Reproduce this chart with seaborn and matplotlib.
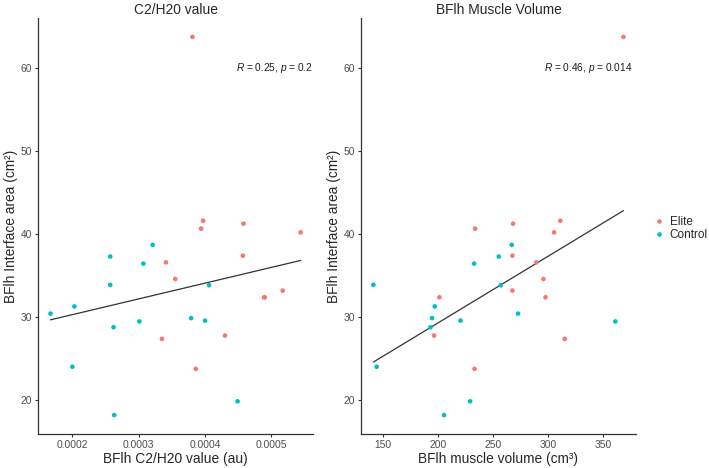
import matplotlib
matplotlib.use("Agg")
import matplotlib.pyplot as plt
import seaborn as sns
import pandas as pd
from matplotlib.lines import Line2D

# Values.
group = ["Elite"] * 14 + ["Control"] * 14
interface_area = [
    63.7, 41.6, 40.65, 41.25, 40.2, 37.4, 36.6, 34.6, 33.2, 32.4, 32.4, 27.8, 27.4, 23.8,
    30.44, 31.3, 24.05, 37.3, 33.9, 28.8, 18.24, 29.5, 36.45, 38.7, 29.9, 29.6, 33.85, 19.9,
]
c2_h20 = [
    0.000381, 0.000397, 0.000394, 0.000458, 0.000544, 0.000457, 0.000341, 0.000355,
    0.000517, 0.000490, 0.000489, 0.000430, 0.000335, 0.000386,
    0.000167, 0.000203, 0.000200, 0.000257, 0.000257, 0.000262, 0.000263, 0.000301,
    0.000307, 0.000321, 0.000379, 0.000400, 0.000406, 0.000449,
]
muscle_volume = [
    368.4, 311.0, 233.5, 268.0, 305.3, 267.4, 289.2, 295.6, 267.4, 201.0, 297.5, 196.2, 315.0, 233.0,
    272.6, 196.8, 144.0, 255.0, 141.0, 192.9, 205.3, 361.0, 232.6, 266.8, 194.4, 220.2, 256.8, 229.0,
]
cor_labels = ["0.25", "0.2", "0.46", "0.014"]

df = pd.DataFrame({
    "group": group,
    "area": interface_area,
    "c2": c2_h20,
    "vol": muscle_volume,
})

palette = {"Elite": "#F8766D", "Control": "#00BFC4"}

sns.set_style("white")
plt.rcParams["font.family"] = ["Liberation Sans", "DejaVu Sans"]
plt.rcParams["mathtext.fontset"] = "custom"
plt.rcParams["mathtext.rm"] = "Liberation Sans"
plt.rcParams["mathtext.it"] = "Liberation Sans:italic"

fig = plt.figure(figsize=(7.09, 4.68), dpi=100)
ax1 = fig.add_axes([0.0536, 0.0726, 0.388, 0.889])
ax2 = fig.add_axes([0.509, 0.0726, 0.388, 0.889])


def expand(vals, frac=0.05):
    lo, hi = min(vals), max(vals)
    pad = (hi - lo) * frac
    return lo - pad, hi + pad


panels = [
    (ax1, "c2", "C2/H20 value", "BFlh C2/H20 value (au)",
     r"$\it{R}$ = %s, $\it{p}$ = %s" % (cor_labels[0], cor_labels[1]), 0.858),
    (ax2, "vol", "BFlh Muscle Volume", "BFlh muscle volume (cm³)",
     r"$\it{R}$ = %s, $\it{p}$ = %s" % (cor_labels[2], cor_labels[3]), 0.825),
]

for ax, xcol, title, xlabel, cor, tx in panels:
    sns.regplot(data=df, x=xcol, y="area", ax=ax, scatter=False, ci=None,
                truncate=True, color="#333333", line_kws={"lw": 0.9})
    sns.scatterplot(data=df, x=xcol, y="area", hue="group", palette=palette,
                    hue_order=["Elite", "Control"], s=11, edgecolor="none",
                    ax=ax, legend=False, zorder=3)
    ax.set_xlim(*expand(df[xcol]))
    ax.set_ylim(*expand(df["area"]))
    ax.set_yticks([20, 30, 40, 50, 60])
    ax.set_title(title, fontsize=9.9, pad=3)
    ax.set_xlabel(xlabel, fontsize=9.9, labelpad=2)
    ax.set_ylabel("BFlh Interface area (cm²)", fontsize=9.9, labelpad=2)
    ax.tick_params(axis="both", length=2.5, width=0.8, color="#333333",
                   labelsize=7.4, labelcolor="#4D4D4D", bottom=True, left=True, pad=1.5)
    for side in ["top", "right"]:
        ax.spines[side].set_visible(False)
    for side in ["left", "bottom"]:
        ax.spines[side].set_color("#333333")
        ax.spines[side].set_linewidth(0.9)
    ax.text(tx, 0.88, cor, transform=ax.transAxes, ha="center", va="center",
            fontsize=7.3, color="#1a1a1a")

ax1.set_xticks([0.0002, 0.0003, 0.0004, 0.0005])
ax1.set_xticklabels(["0.0002", "0.0003", "0.0004", "0.0005"])
ax2.set_xticks([150, 200, 250, 300, 350])

handles = [Line2D([], [], marker="o", linestyle="", markersize=3.3,
                  markerfacecolor=palette[g], markeredgecolor="none", label=g)
           for g in ["Elite", "Control"]]
fig.legend(handles=handles, loc="center left", bbox_to_anchor=(0.913, 0.511),
           frameon=False, fontsize=8.5, handletextpad=0.3, labelspacing=0.1,
           borderaxespad=0, handlelength=1.2)

fig.savefig("out.png", dpi=100)
